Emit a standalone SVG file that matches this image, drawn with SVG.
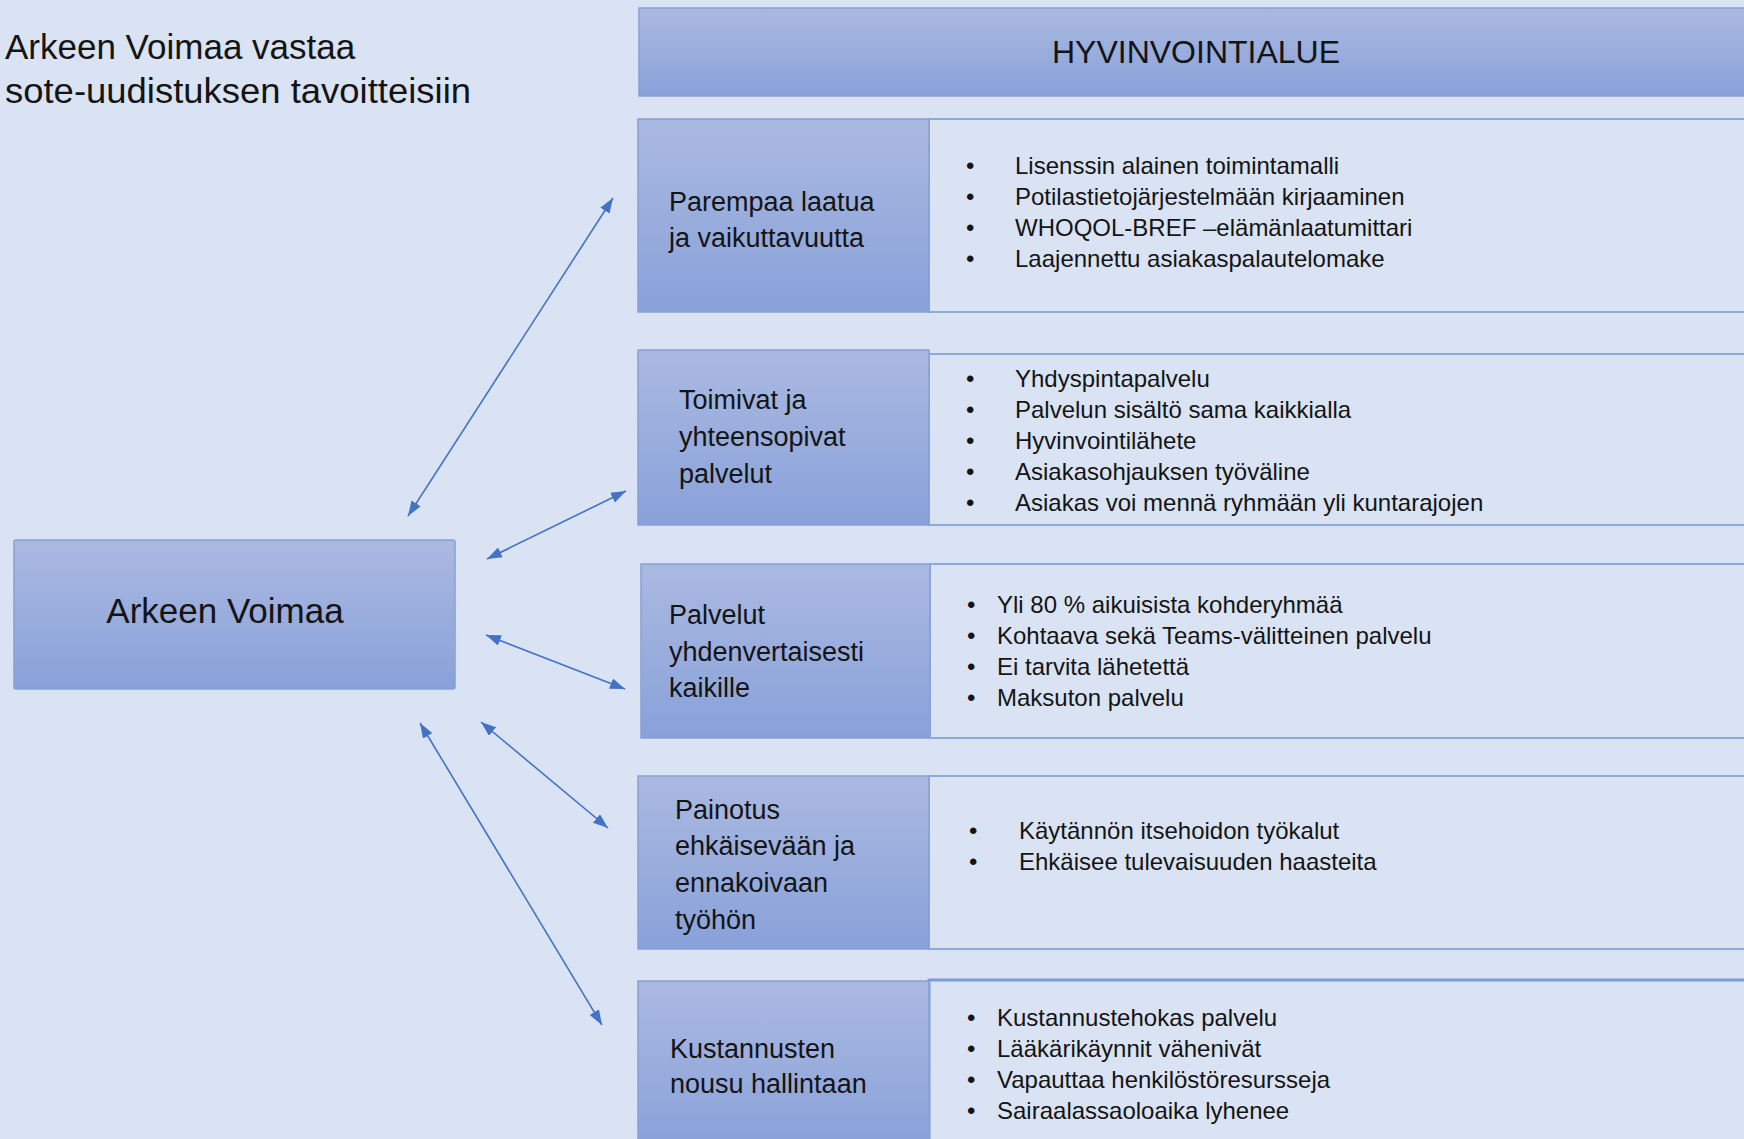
<svg xmlns="http://www.w3.org/2000/svg" width="1744" height="1139" viewBox="0 0 1744 1139">
<defs>
<linearGradient id="g" x1="0" y1="0" x2="0" y2="1">
<stop offset="0" stop-color="#aab9e1"/>
<stop offset="1" stop-color="#89a1d9"/>
</linearGradient>
<marker id="ah" viewBox="0 0 15 11" refX="15" refY="5.5" markerWidth="15" markerHeight="11" markerUnits="userSpaceOnUse" orient="auto-start-reverse">
<path d="M0,0 L15,5.5 L0,11 z" fill="#4472c4"/>
</marker>
<style>
.bg{fill:#dae3f3}
.box{fill:url(#g);stroke:#86a0d8;stroke-width:1.5}
.cont{fill:#dae3f3;stroke:#8eaadb;stroke-width:2}
text{font-family:"Liberation Sans",Arial,sans-serif;fill:#141414}
.title{font-size:35px}
.head{font-size:32px}
.main{font-size:35px}
.lab{font-size:27px}
.it{font-size:24px}
.conn{stroke:#4472c4;stroke-width:1.6;fill:none;marker-start:url(#ah);marker-end:url(#ah)}
</style>
</defs>
<rect class="bg" x="0" y="0" width="1744" height="1139"/>

<g id="title">
<text class="title" x="5" y="59">Arkeen Voimaa vastaa</text>
<text class="title" x="5" y="103" textLength="466" lengthAdjust="spacingAndGlyphs">sote-uudistuksen tavoitteisiin</text>
</g>

<g id="hyvinvointialue">
<rect class="box" x="639" y="8" width="1120" height="88"/>
<text class="head" x="1196" y="63" text-anchor="middle">HYVINVOINTIALUE</text>
</g>

<g id="arkeen-voimaa">
<rect class="box" x="14" y="540" width="441" height="149" rx="2"/>
<text class="main" x="225" y="623" text-anchor="middle">Arkeen Voimaa</text>
</g>

<g id="laatu">
<rect class="cont" x="929" y="119" width="830" height="193"/>
<rect class="box" x="638" y="119" width="291" height="193"/>
<text class="lab" x="669" y="211">Parempaa laatua</text>
<text class="lab" x="669" y="247">ja vaikuttavuutta</text>
<text class="it" x="966" y="174">•</text><text class="it" x="1015" y="174">Lisenssin alainen toimintamalli</text>
<text class="it" x="966" y="205">•</text><text class="it" x="1015" y="205">Potilastietojärjestelmään kirjaaminen</text>
<text class="it" x="966" y="236">•</text><text class="it" x="1015" y="236">WHOQOL-BREF –elämänlaatumittari</text>
<text class="it" x="966" y="267">•</text><text class="it" x="1015" y="267">Laajennettu asiakaspalautelomake</text>
</g>

<g id="toimivat">
<rect class="cont" x="929" y="354" width="830" height="171"/>
<rect class="box" x="638" y="350" width="291" height="175"/>
<text class="lab" x="679" y="409">Toimivat ja</text>
<text class="lab" x="679" y="446">yhteensopivat</text>
<text class="lab" x="679" y="483">palvelut</text>
<text class="it" x="966" y="387">•</text><text class="it" x="1015" y="387">Yhdyspintapalvelu</text>
<text class="it" x="966" y="418">•</text><text class="it" x="1015" y="418">Palvelun sisältö sama kaikkialla</text>
<text class="it" x="966" y="449">•</text><text class="it" x="1015" y="449">Hyvinvointilähete</text>
<text class="it" x="966" y="480">•</text><text class="it" x="1015" y="480">Asiakasohjauksen työväline</text>
<text class="it" x="966" y="511">•</text><text class="it" x="1015" y="511">Asiakas voi mennä ryhmään yli kuntarajojen</text>
</g>

<g id="yhdenvertaisesti">
<rect class="cont" x="930" y="564" width="830" height="174"/>
<rect class="box" x="641" y="564" width="289" height="174"/>
<text class="lab" x="669" y="624">Palvelut</text>
<text class="lab" x="669" y="661">yhdenvertaisesti</text>
<text class="lab" x="669" y="697">kaikille</text>
<text class="it" x="967" y="613">•</text><text class="it" x="997" y="613">Yli 80 % aikuisista kohderyhmää</text>
<text class="it" x="967" y="644">•</text><text class="it" x="997" y="644">Kohtaava sekä Teams-välitteinen palvelu</text>
<text class="it" x="967" y="675">•</text><text class="it" x="997" y="675">Ei tarvita lähetettä</text>
<text class="it" x="967" y="706">•</text><text class="it" x="997" y="706">Maksuton palvelu</text>
</g>

<g id="painotus">
<rect class="cont" x="929" y="776" width="830" height="173"/>
<rect class="box" x="638" y="776" width="291" height="173"/>
<text class="lab" x="675" y="819">Painotus</text>
<text class="lab" x="675" y="855">ehkäisevään  ja</text>
<text class="lab" x="675" y="892">ennakoivaan</text>
<text class="lab" x="675" y="929">työhön</text>
<text class="it" x="969" y="839">•</text><text class="it" x="1019" y="839">Käytännön itsehoidon työkalut</text>
<text class="it" x="969" y="870">•</text><text class="it" x="1019" y="870">Ehkäisee tulevaisuuden haasteita</text>
</g>

<g id="kustannukset">
<rect class="cont" x="929" y="980" width="830" height="170" style="stroke-width:3;stroke:#7f9bd6"/>
<rect class="box" x="638" y="981" width="291" height="170"/>
<text class="lab" x="670" y="1058">Kustannusten</text>
<text class="lab" x="670" y="1093">nousu hallintaan</text>
<text class="it" x="967" y="1026">•</text><text class="it" x="997" y="1026">Kustannustehokas palvelu</text>
<text class="it" x="967" y="1057">•</text><text class="it" x="997" y="1057">Lääkärikäynnit vähenivät</text>
<text class="it" x="967" y="1088">•</text><text class="it" x="997" y="1088">Vapauttaa henkilöstöresursseja</text>
<text class="it" x="967" y="1119">•</text><text class="it" x="997" y="1119">Sairaalassaoloaika lyhenee</text>
</g>

<g id="connectors">
<line class="conn" x1="613" y1="198" x2="408" y2="516"/>
<line class="conn" x1="626" y1="491" x2="487" y2="559"/>
<line class="conn" x1="486" y1="635" x2="625" y2="689"/>
<line class="conn" x1="481" y1="722" x2="608" y2="828"/>
<line class="conn" x1="420" y1="723" x2="602" y2="1025"/>
</g>
</svg>
